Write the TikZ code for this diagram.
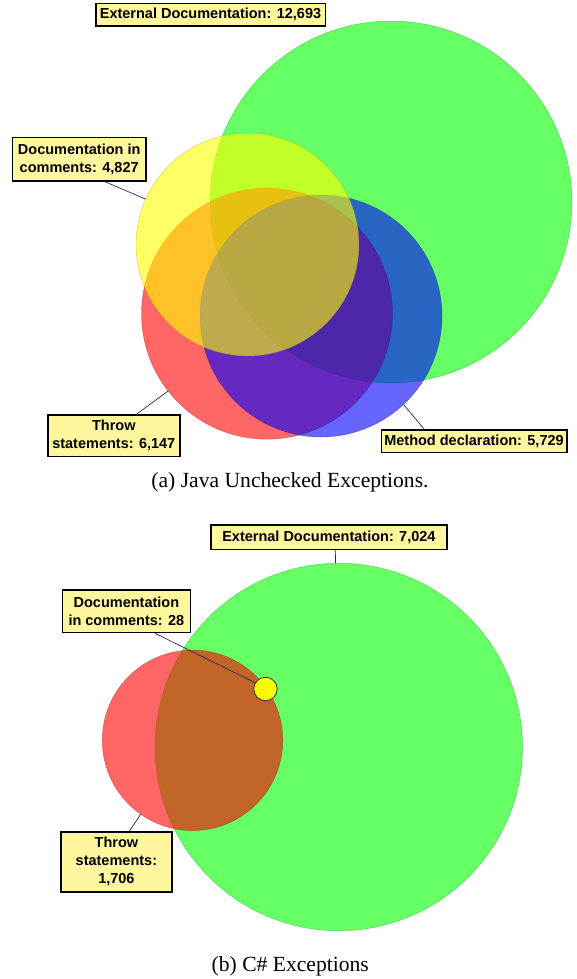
\documentclass[tikz,border=0pt]{standalone}
\usepackage{fontspec}
\setmainfont{Liberation Serif}
\newfontfamily\labfont{Liberation Sans}
\definecolor{labfill}{RGB}{255,247,158}
\definecolor{leadcol}{RGB}{40,40,90}
\definecolor{vgreen}{RGB}{0,255,0}
\definecolor{vred}{RGB}{255,0,0}
\definecolor{vblue}{RGB}{0,0,255}
\definecolor{vyellow}{RGB}{255,255,0}
\begin{document}
\begin{tikzpicture}[x=1pt,y=-1pt,
  venn/.style={circle, inner sep=0pt, outer sep=0pt, minimum size=#1, fill opacity=0.6, draw opacity=0.35, line width=0.5pt},
  lab/.style={draw=black, line width=1.5pt, fill=labfill, align=center, inner sep=0pt,
    font=\labfont\bfseries\fontsize{14.5}{18}\selectfont},
  leader/.style={draw=leadcol, line width=0.7pt},
  capt/.style={anchor=base, inner sep=0pt, font=\fontsize{21.6}{26}\selectfont}]
\useasboundingbox (0,0) rectangle (577,979);
% ---------- (a) Java ----------
\node[venn=362pt, fill=vgreen, draw=vgreen!50!black] (ga) at (391,202) {};
\node[venn=251pt, fill=vred, draw=vred!50!black] (ra) at (267,313.7) {};
\node[venn=242pt, fill=vblue, draw=vblue!50!black] (ba) at (321,316) {};
\node[venn=223pt, fill=vyellow, draw=vyellow!50!black] (ya) at (247.5,244.5) {};
\node[lab, minimum width=229.5pt, minimum height=22.5pt] (la1) at (210.5,14.7) {External Documentation: 12,693};
\node[lab, minimum width=133.5pt, minimum height=43.5pt] (la2) at (79.2,159.2) {Documentation in\\comments: 4,827};
\node[lab, minimum width=132pt, minimum height=41.5pt] (la3) at (113.8,435.5) {Throw\\statements: 6,147};
\node[lab, minimum width=185.5pt, minimum height=22.5pt] (la4) at (474,441) {Method declaration: 5,729};
\draw[leader] ([xshift=25.8pt]la2.south) -- (ya.156);
\draw[leader] ([xshift=23pt]la3.north) -- (ra.218);
\draw[leader] ([xshift=-50pt]la4.north) -- (ba.-47);
\node[capt] (capa) at (290,487.7) {(a) Java Unchecked Exceptions.};
% ---------- (b) C# ----------
\node[venn=367.6pt, fill=vgreen, draw=vgreen!50!black] (gb) at (338.8,747) {};
\node[venn=180.6pt, fill=vred, draw=vred!50!black] (rb) at (192.5,740.3) {};
\node[circle, inner sep=0pt, minimum size=23.5pt, fill=vyellow, fill opacity=0.95, draw=black!80, line width=0.8pt] (yb) at (265.5,689) {};
\node[lab, minimum width=236pt, minimum height=24.5pt] (lb1) at (328.9,537.2) {External Documentation: 7,024};
\node[lab, minimum width=128pt, minimum height=42.5pt] (lb2) at (126.4,611.3) {Documentation\\in comments: 28};
\node[lab, minimum width=111pt, minimum height=60pt] (lb3) at (116.4,861.8) {Throw\\statements:\\1,706};
\draw[leader] ([xshift=6.4pt]lb1.south) -- (gb.91);
\draw[leader] ([xshift=28.7pt]lb2.south) -- (yb.149);
\draw[leader] ([xshift=13pt]lb3.north) -- (rb.235);
\node[capt] (capb) at (290.3,971.7) {(b) C\# Exceptions};
\end{tikzpicture}
\end{document}
